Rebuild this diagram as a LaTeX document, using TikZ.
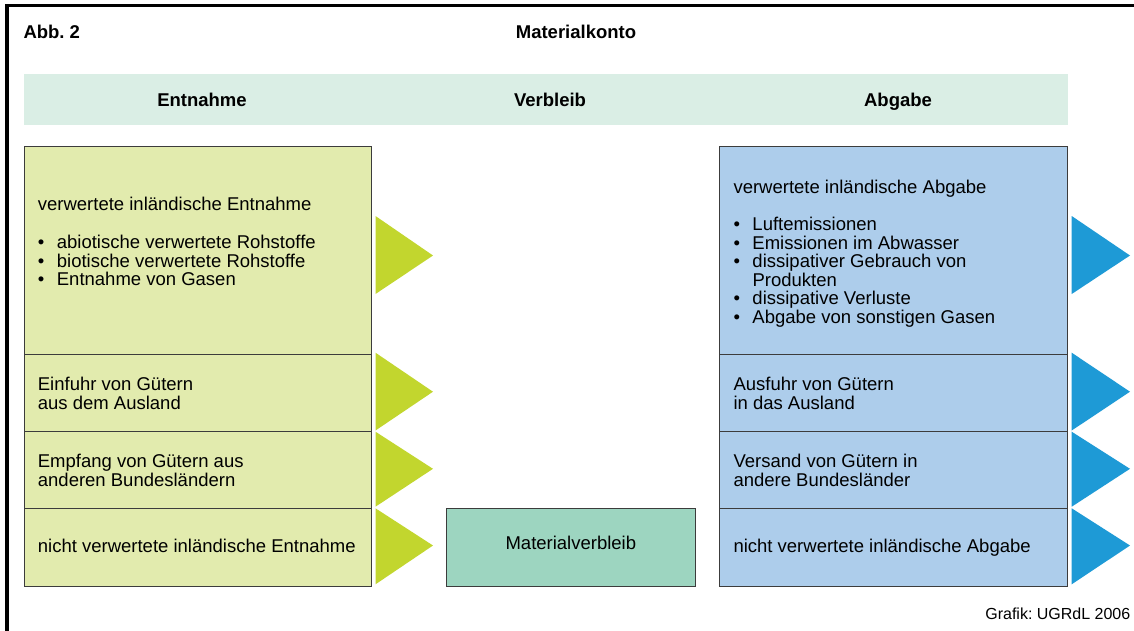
\documentclass[tikz,border=0pt]{standalone}
\usepackage{fontspec}
\setmainfont{Liberation Sans}
\frenchspacing
\definecolor{bandc}{HTML}{DAEEE5}
\definecolor{lfill}{HTML}{E2EBAE}
\definecolor{rfill}{HTML}{ADCDEB}
\definecolor{mfill}{HTML}{9DD5C0}
\definecolor{gtri}{HTML}{C2D62E}
\definecolor{btri}{HTML}{1E9AD6}
\definecolor{boxline}{HTML}{3C3C3C}
\tikzset{
  cell/.style={draw=boxline, line width=0.8pt, inner sep=0pt, minimum width=347.5pt},
  lcell/.style={cell, fill=lfill},
  rcell/.style={cell, fill=rfill},
  txt/.style={font=\fontsize{18.5}{18.5}\selectfont, inner sep=0pt, align=left, anchor=base west},
  hdr/.style={font=\fontsize{18.5}{18.5}\selectfont\bfseries, inner sep=0pt, anchor=base},
  gtr/.style={fill=gtri},
  btr/.style={fill=btri},
}
\newcommand{\bul}{\makebox[19pt][l]{\textbullet}}
\begin{document}
\begin{tikzpicture}[x=1pt,y=-1pt]
\useasboundingbox (0,0) rectangle (1134,630);
\clip (0,0) rectangle (1134,630);
% frame
\draw[line width=3.2pt] (7,640) -- (7,5.7) -- (1140,5.7);
% titles
\node[hdr, anchor=base west] (abb) at (23.3,38.3) {Abb.\ 2};
\node[hdr] (title) at (576,38.3) {Materialkonto};
% header band
\node[fill=bandc, inner sep=0pt, minimum width=1044pt, minimum height=51pt] (band) at (546,99.5) {};
\node[hdr] (hE) at (202,106) {Entnahme};
\node[hdr] (hV) at (550,106) {Verbleib};
\node[hdr] (hA) at (898,106) {Abgabe};
% left cells
\node[lcell, minimum height=208pt] (e1) at (197.75,250) {};
\node[lcell, minimum height=77.7pt] (e2) at (197.75,392.85) {};
\node[lcell, minimum height=76.6pt] (e3) at (197.75,470) {};
\node[lcell, minimum height=77.7pt] (e4) at (197.75,547.15) {};
% right cells
\node[rcell, minimum height=208pt] (a1) at (893.5,250) {};
\node[rcell, minimum height=77.7pt] (a2) at (893.5,392.85) {};
\node[rcell, minimum height=76.6pt] (a3) at (893.5,470) {};
\node[rcell, minimum height=77.7pt] (a4) at (893.5,547.15) {};
% middle
\node[draw=boxline, line width=0.8pt, fill=mfill, inner sep=0pt, minimum width=248.3pt, minimum height=77.7pt] (mv) at (570.85,547.15) {};
\node[txt, anchor=base] (mvt) at (570.85,549) {Materialverbleib};
% left texts (anchor = baseline of last line)
\node[txt] (e1t) at (37.7,285.7) {verwertete inländische Entnahme\\[19.5pt]
\bul abiotische verwertete Rohstoffe\\
\bul biotische verwertete Rohstoffe\\
\bul Entnahme von Gasen};
\node[txt] (e2t) at (37.7,409.3) {Einfuhr von Gütern\\aus dem Ausland};
\node[txt] (e3t) at (37.7,486) {Empfang von Gütern aus\\anderen Bundesländern};
\node[txt] (e4t) at (37.7,552.7) {nicht verwertete inländische Entnahme};
% right texts
\node[txt] (a1t) at (733.3,323) {verwertete inländische Abgabe\\[18.2pt]
\bul Luftemissionen\\
\bul Emissionen im Abwasser\\
\bul dissipativer Gebrauch von\\
\hspace*{19pt}Produkten\\
\bul dissipative Verluste\\
\bul Abgabe von sonstigen Gasen};
\node[txt] (a2t) at (733.3,409.3) {Ausfuhr von Gütern\\in das Ausland};
\node[txt] (a3t) at (733.3,486) {Versand von Gütern in\\andere Bundesländer};
\node[txt] (a4t) at (733.3,552.7) {nicht verwertete inländische Abgabe};
% green triangles
\fill[gtr] (375.5,216) -- (433,255.5) -- (375.5,294) -- cycle;
\fill[gtr] (375.5,352.7) -- (433,391.7) -- (375.5,430.5) -- cycle;
\fill[gtr] (375.5,431.7) -- (433,468.8) -- (375.5,506.7) -- cycle;
\fill[gtr] (375.5,508.3) -- (433,545.5) -- (375.5,584.3) -- cycle;
% blue triangles
\fill[btr] (1071.7,216) -- (1130,255.5) -- (1071.7,294) -- cycle;
\fill[btr] (1071.7,352.7) -- (1130,391.7) -- (1071.7,430.5) -- cycle;
\fill[btr] (1071.7,431.7) -- (1130,468.8) -- (1071.7,506.7) -- cycle;
\fill[btr] (1071.7,508.3) -- (1130,545.5) -- (1071.7,584.3) -- cycle;
% credit
\node[font=\fontsize{16}{16}\selectfont, inner sep=0pt, anchor=base east] (credit) at (1130.5,619.3) {Grafik: UGRdL 2006};
\end{tikzpicture}
\end{document}
